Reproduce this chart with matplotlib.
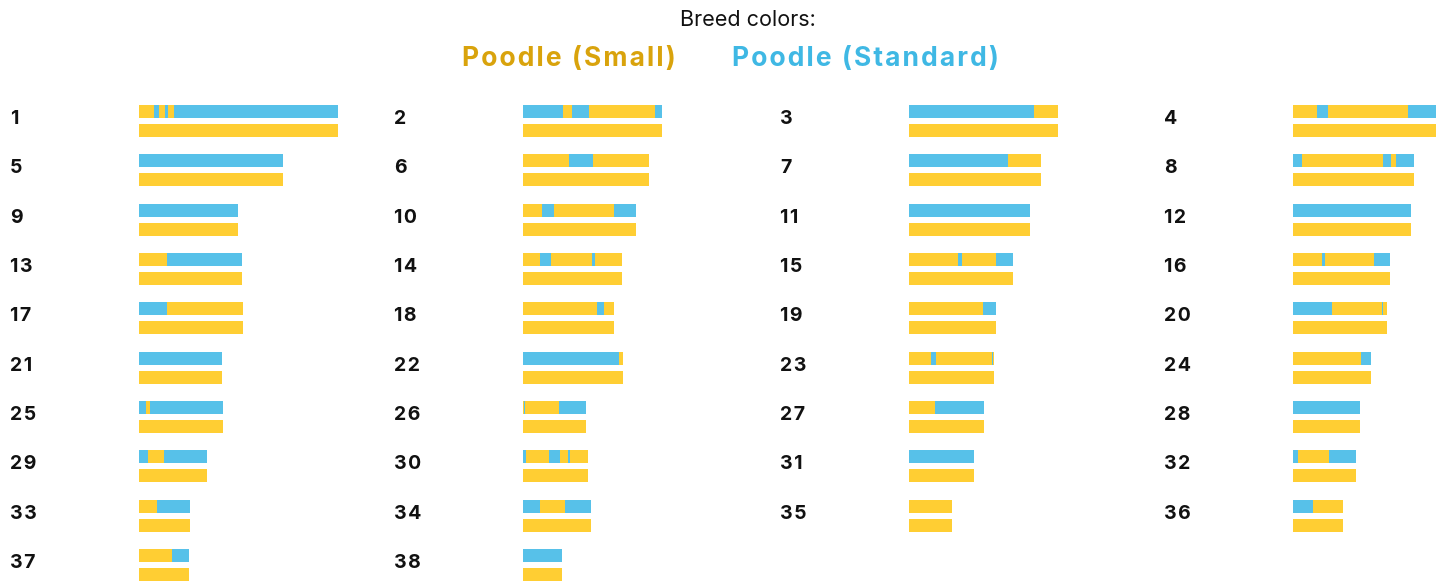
import matplotlib
matplotlib.use('Agg')
import matplotlib.pyplot as plt

# chromosome lengths (Mb)
chrom_len = [122.7, 85.4, 91.9, 88.3, 88.9, 77.6, 81.0, 74.7, 61.1, 69.3,
             74.4, 72.5, 63.2, 61.0, 64.2, 59.6, 64.3, 55.8, 53.7, 58.1,
             50.9, 61.4, 52.3, 47.7, 51.6, 39.0, 45.9, 41.2, 41.8, 40.2,
             39.8, 38.8, 31.4, 42.1, 26.5, 30.8, 30.9, 23.9]

# Poodle (Standard) segments on the first haplotype (start, end in Mb);
# everything else on it, and all of haplotype 2, is Poodle (Small)
std_segs = {
    1: [(9.2, 12.3), (16.0, 17.8), (21.5, 122.7)],
    2: [(0, 24.6), (30.2, 40.6), (81.2, 85.4)],
    3: [(0, 76.9)],
    4: [(14.8, 21.5), (70.8, 88.3)],
    5: [(0, 88.9)],
    6: [(28.3, 43.1)],
    7: [(0, 60.9)],
    8: [(0, 5.5), (55.4, 60.3), (63.4, 74.7)],
    9: [(0, 61.1)],
    10: [(11.7, 19.1), (56.0, 69.3)],
    11: [(0, 74.4)],
    12: [(0, 72.5)],
    13: [(17.2, 63.2)],
    14: [(10.5, 17.2), (42.5, 44.3)],
    15: [(30.2, 32.6), (53.5, 64.2)],
    16: [(17.8, 19.7), (49.8, 59.6)],
    17: [(0, 17.2)],
    18: [(45.5, 49.8)],
    19: [(45.5, 53.7)],
    20: [(0, 24.0), (54.8, 55.4)],
    21: [(0, 50.9)],
    22: [(0, 59.1)],
    23: [(13.5, 16.6), (51.1, 51.7)],
    24: [(41.8, 47.7)],
    25: [(0, 4.3), (6.8, 51.6)],
    26: [(0.6, 1.2), (22.2, 39.0)],
    27: [(16.0, 45.9)],
    28: [(0, 41.2)],
    29: [(0, 5.5), (15.4, 41.8)],
    30: [(0, 1.8), (16.0, 22.8), (27.7, 28.9)],
    31: [(0, 39.8)],
    32: [(0, 3.1), (22.2, 38.8)],
    33: [(11.1, 31.4)],
    34: [(0, 10.5), (25.8, 42.1)],
    35: [],
    36: [(0, 12.3)],
    37: [(20.3, 30.9)],
    38: [(0, 23.9)],
}

breeds = ['Poodle (Small)', 'Poodle (Standard)']
bar_colors = ['#FFCE33', '#57C1E9']
text_colors = ['#D9A30C', '#3FB8E4']

W, H = 1444, 581
fig = plt.figure(figsize=(W / 100, H / 100), dpi=100)
fig.patch.set_facecolor('white')

px_per_mb = 1.625
row_px = 49.33
col_left = [139, 523, 909, 1293]
label_off = 129  # px from label to bar start
ax_w_px = 205
y0 = 111.5  # pixel of the first row's top bar centre
bh = 13 / row_px
gap = 19 / row_px

axes = []
for c in range(4):
    ax = fig.add_axes([col_left[c] / W, 0, ax_w_px / W, 1])
    ax.set_xlim(0, ax_w_px / px_per_mb)
    ax.set_ylim((H - y0) / row_px, -y0 / row_px)
    ax.axis('off')
    axes.append(ax)

for n in range(1, 39):
    ax = axes[(n - 1) % 4]
    r = (n - 1) // 4
    L = chrom_len[n - 1]
    # haplotype 1 : small base + standard segments
    ax.barh(r, L, left=0, height=bh, color=bar_colors[0], linewidth=0)
    for s, e in std_segs[n]:
        ax.barh(r, e - s, left=s, height=bh, color=bar_colors[1], linewidth=0)
    # haplotype 2 : all small
    ax.barh(r + gap, L, left=0, height=bh, color=bar_colors[0], linewidth=0)
    ax.text(-label_off / px_per_mb, r + 0.15, '\u200a'.join(str(n)), ha='left',
            va='center', fontsize=14, fontweight='bold',
            family=['Inter', 'DejaVu Sans'], color='#111111', clip_on=False)

def spaced(s):
    return '\u200a'.join(s)

fig.text(748 / W, 1 - 20 / H, 'Breed colors:', ha='center', va='center',
         fontsize=15.5, family='Inter', color='#111111')
fig.text(569 / W, 1 - 59 / H, spaced(breeds[0]), ha='center', va='center',
         fontsize=19, fontweight='bold', family=['Inter', 'DejaVu Sans'],
         color=text_colors[0])
fig.text(865 / W, 1 - 59 / H, spaced(breeds[1]), ha='center', va='center',
         fontsize=19, fontweight='bold', family=['Inter', 'DejaVu Sans'],
         color=text_colors[1])

fig.savefig('out.png', dpi=100, facecolor='white')
